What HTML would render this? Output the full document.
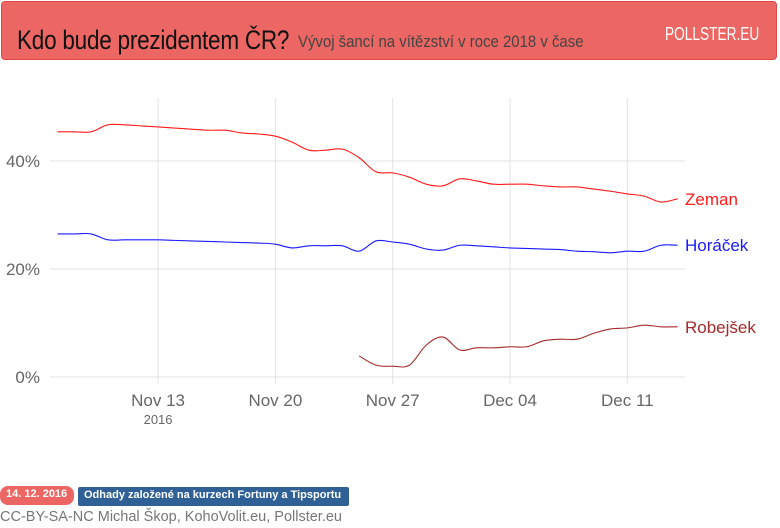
<!DOCTYPE html>
<html><head><meta charset="utf-8"><style>
body{margin:0;width:780px;height:528px;background:#fff;overflow:hidden;font-family:"Liberation Sans",sans-serif;position:relative}
#hdr{position:absolute;left:1px;top:1px;width:776px;height:59px;background:#ec6763;border:1px solid #dd4a46;border-radius:4px;box-sizing:border-box}
#title{position:absolute;left:15px;top:23px;white-space:nowrap}
#t1{display:inline-block;font-size:27px;color:#111;transform:scaleX(0.835);transform-origin:left center;letter-spacing:-0.3px}
#t2{position:absolute;left:281px;top:8px;display:inline-block;font-size:16.5px;color:#444;transform:scaleX(0.905);transform-origin:left center;white-space:nowrap}
#brand{position:absolute;left:663px;top:22px;font-size:18px;color:#fff;transform:scaleX(0.76);transform-origin:left center;white-space:nowrap}
.badge{position:absolute;top:487px;height:19px;font-size:11px;font-weight:bold;color:#fff;line-height:17px;padding:0 6px;box-sizing:border-box}
#foot{position:absolute;left:0;top:509px;font-size:14.5px;color:#777}
</style></head><body>
<div id="hdr">
<div id="title"><span id="t1">Kdo bude prezidentem ČR?</span><span id="t2">Vývoj šancí na vítězství v roce 2018 v čase</span></div>
<div id="brand">POLLSTER.EU</div>
</div>
<svg id="chart" width="780" height="528" style="position:absolute;left:0;top:0"></svg>
<div class="badge" style="left:0;background:#ec6763;border-radius:8px;width:74px;top:486px">14. 12. 2016</div>
<div class="badge" style="left:78px;background:#2f6196;border-radius:2px;width:271px;padding-left:6px">Odhady založené na kurzech Fortuny a Tipsportu</div>
<div id="foot">CC-BY-SA-NC Michal Škop, KohoVolit.eu, Pollster.eu</div>
<script>
const days = Array.from({length:38},(_,i)=>i); // days since Nov 7
const zeman = [45.4,45.4,45.4,46.7,46.7,46.5,46.3,46.1,45.9,45.7,45.7,45.2,45,44.6,43.5,42,42,42.2,40.6,38,37.8,37,35.7,35.4,36.7,36.3,35.7,35.7,35.7,35.4,35.2,35.2,34.8,34.4,33.9,33.5,32.4,33];
const horacek = [26.5,26.5,26.5,25.4,25.4,25.4,25.4,25.3,25.2,25.1,25,24.9,24.8,24.6,23.9,24.3,24.3,24.3,23.3,25.2,25,24.6,23.7,23.5,24.4,24.3,24.1,23.9,23.8,23.7,23.6,23.3,23.2,23,23.3,23.3,24.4,24.4];
const robejsek = [null,null,null,null,null,null,null,null,null,null,null,null,null,null,null,null,null,null,3.9,2.2,2,2.2,5.9,7.4,5,5.4,5.4,5.6,5.6,6.7,7,7,8.1,8.9,9.1,9.6,9.3,9.3];
const seriesNames = ["Zeman","Horáček","Robejšek"];
const seriesColors = ["#ff1a1a","#1a1aff","#a52a2a"];
const yTicks = [0,20,40];
const xTickDays = [6,13,20,27,34];
const xTickLabels = ["Nov 13","Nov 20","Nov 27","Dec 04","Dec 11"];

const svg=document.getElementById('chart');
const NS='http://www.w3.org/2000/svg';
const x=d=>57.5+d*16.76;
const y=v=>377-v*5.4;
function mk(t,a){const e=document.createElementNS(NS,t);for(const k in a)e.setAttribute(k,a[k]);svg.appendChild(e);return e;}
yTicks.forEach(t=>{
  const l=mk('line',{x1:50,x2:685,y1:y(t),y2:y(t),stroke:'#e3e3e3','stroke-width':1});
  
  
  const tx=mk('text',{x:40,y:y(t)+6,'text-anchor':'end','font-size':17,fill:'#666','font-family':'Liberation Sans, sans-serif'});
  tx.textContent=t+'%';
  
  
});
xTickDays.forEach((d,i)=>{
  const l=mk('line',{x1:x(d),x2:x(d),y1:98,y2:384,stroke:'#e3e3e3','stroke-width':1});
  
  
  const tx=mk('text',{x:x(d),y:406,'text-anchor':'middle','font-size':17,fill:'#666','font-family':'Liberation Sans, sans-serif'});
  tx.textContent=xTickLabels[i];
  
  
});
const yr=mk('text',{x:x(6),y:424,'text-anchor':'middle','font-size':13,fill:'#666','font-family':'Liberation Sans, sans-serif'});
yr.textContent='2016';


function path(vals){
  const pts=[];vals.forEach((v,i)=>{if(v!=null)pts.push([x(days[i]),y(v)]);});
  let d='M'+pts[0][0]+','+pts[0][1];
  for(let i=0;i<pts.length-1;i++){
    const p0=pts[Math.max(0,i-1)],p1=pts[i],p2=pts[i+1],p3=pts[Math.min(pts.length-1,i+2)];
    const c1=[p1[0]+(p2[0]-p0[0])/6,p1[1]+(p2[1]-p0[1])/6],c2=[p2[0]-(p3[0]-p1[0])/6,p2[1]-(p3[1]-p1[1])/6];
    d+=' C'+c1+' '+c2+' '+p2;
  }
  return d;
}
[zeman,horacek,robejsek].forEach((s,i)=>{
  const p=mk('path',{d:path(s),fill:'none',stroke:seriesColors[i],'stroke-width':1.1});
  
  
  const last=s[s.length-1];
  const tx=mk('text',{x:685,y:y(last)+6,'font-size':17,fill:seriesColors[i],'font-family':'Liberation Sans, sans-serif'});
  tx.textContent=seriesNames[i];
  
  
});
</script>
</body></html>
